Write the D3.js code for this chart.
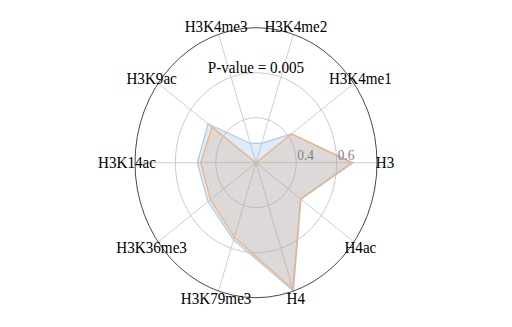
<!DOCTYPE html>
<html>
<head>
<meta charset="utf-8">
<script src="https://cdn.jsdelivr.net/npm/d3@7"></script>
<style>
  html, body { margin: 0; padding: 0; background: #fff; }
  svg { display: block; }
  text { font-family: "Liberation Serif", "Times New Roman", serif; }
</style>
</head>
<body>
<svg id="chart"></svg>
<script>
const width = 512;
const height = 327;

// histone marks, counter-clockwise from the right
const marks = ["H3", "H3K4me1", "H3K4me2", "H3K4me3", "H3K9ac",
    "H3K14ac", "H3K36me3", "H3K79me3", "H4", "H4ac"];

const blueValues = [0.683, 0.418, 0.29, 0.29, 0.494, 0.491, 0.494, 0.56, 0.80, 0.476];
const orangeValues = [0.674, 0.418, 0.2, 0.2, 0.47, 0.474, 0.479, 0.548, 0.79, 0.473];

const gridLevels = [0.4, 0.6];
const tickLabels = ["0.4", "0.6"];
const title = "P-value = 0.005";

const cx = 256, cy = 162.7;
const rx = 121, ry = 135;   // picture is a bit stretched vertically
const textScale = 0.89;

const svg = d3.select("#chart")
    .attr("width", width)
    .attr("height", height);

const r = d3.scaleLinear()
    .domain([0.2, 0.8])
    .range([0, 1]);

const angle = d3.scaleLinear()
    .domain([0, marks.length])
    .range([0, 2 * Math.PI]);

function px(f, a) { return cx + rx * f * Math.cos(a); }
function py(f, a) { return cy - ry * f * Math.sin(a); }

// rings
svg.selectAll("ellipse.grid")
    .data(gridLevels)
    .enter()
    .append("ellipse")
    .attr("class", "grid")
    .attr("cx", cx)
    .attr("cy", cy)
    .attr("rx", d => rx * r(d))
    .attr("ry", d => ry * r(d))
    .attr("fill", "none")
    .attr("stroke", "#c4c4c4")
    .attr("stroke-width", 0.9);

// spokes
svg.selectAll("line.spoke")
    .data(marks)
    .enter()
    .append("line")
    .attr("class", "spoke")
    .attr("x1", cx)
    .attr("y1", cy)
    .attr("x2", (d, i) => px(1, angle(i)))
    .attr("y2", (d, i) => py(1, angle(i)))
    .attr("stroke", "#c8c8c8")
    .attr("stroke-width", 0.9);

// series
const line = d3.line()
    .x((d, i) => px(r(d), angle(i)))
    .y((d, i) => py(r(d), angle(i)))
    .curve(d3.curveLinearClosed);

svg.append("path")
    .attr("d", line(blueValues))
    .attr("fill", "rgba(110,160,230,0.22)")
    .attr("stroke", "#aac8f0")
    .attr("stroke-width", 1.2);

svg.append("path")
    .attr("d", line(orangeValues))
    .attr("fill", "rgba(222,170,125,0.26)")
    .attr("stroke", "#f4b06c")
    .attr("stroke-width", 1.2);

// outer frame
svg.append("ellipse")
    .attr("cx", cx)
    .attr("cy", cy)
    .attr("rx", rx)
    .attr("ry", ry)
    .attr("fill", "none")
    .attr("stroke", "#333")
    .attr("stroke-width", 0.9);

// radial tick labels
svg.selectAll("text.tick")
    .data(gridLevels)
    .enter()
    .append("text")
    .attr("class", "tick")
    .attr("transform", d => `translate(${cx + rx * r(d) + 1},${cy - 2.5}) scale(${textScale},1)`)
    .attr("fill", "#808080")
    .style("font-size", "15px")
    .text((d, i) => tickLabels[i]);

// axis labels
svg.selectAll("text.mark")
    .data(marks)
    .enter()
    .append("text")
    .attr("class", "mark")
    .attr("transform", (d, i) => {
        const a = angle(i);
        const x = cx + (rx + 8) * Math.cos(a);
        const y = cy - (ry + 8) * Math.sin(a);
        return `translate(${x},${y}) scale(${textScale},1)`;
    })
    .attr("dy", "0.34em")
    .attr("text-anchor", "middle")
    .attr("fill", "#000")
    .style("font-size", "17px")
    .text(d => d);

svg.append("text")
    .attr("transform", `translate(${cx},72.5) scale(${textScale},1)`)
    .attr("text-anchor", "middle")
    .attr("fill", "#000")
    .style("font-size", "17px")
    .text(title);
</script>
</body>
</html>
